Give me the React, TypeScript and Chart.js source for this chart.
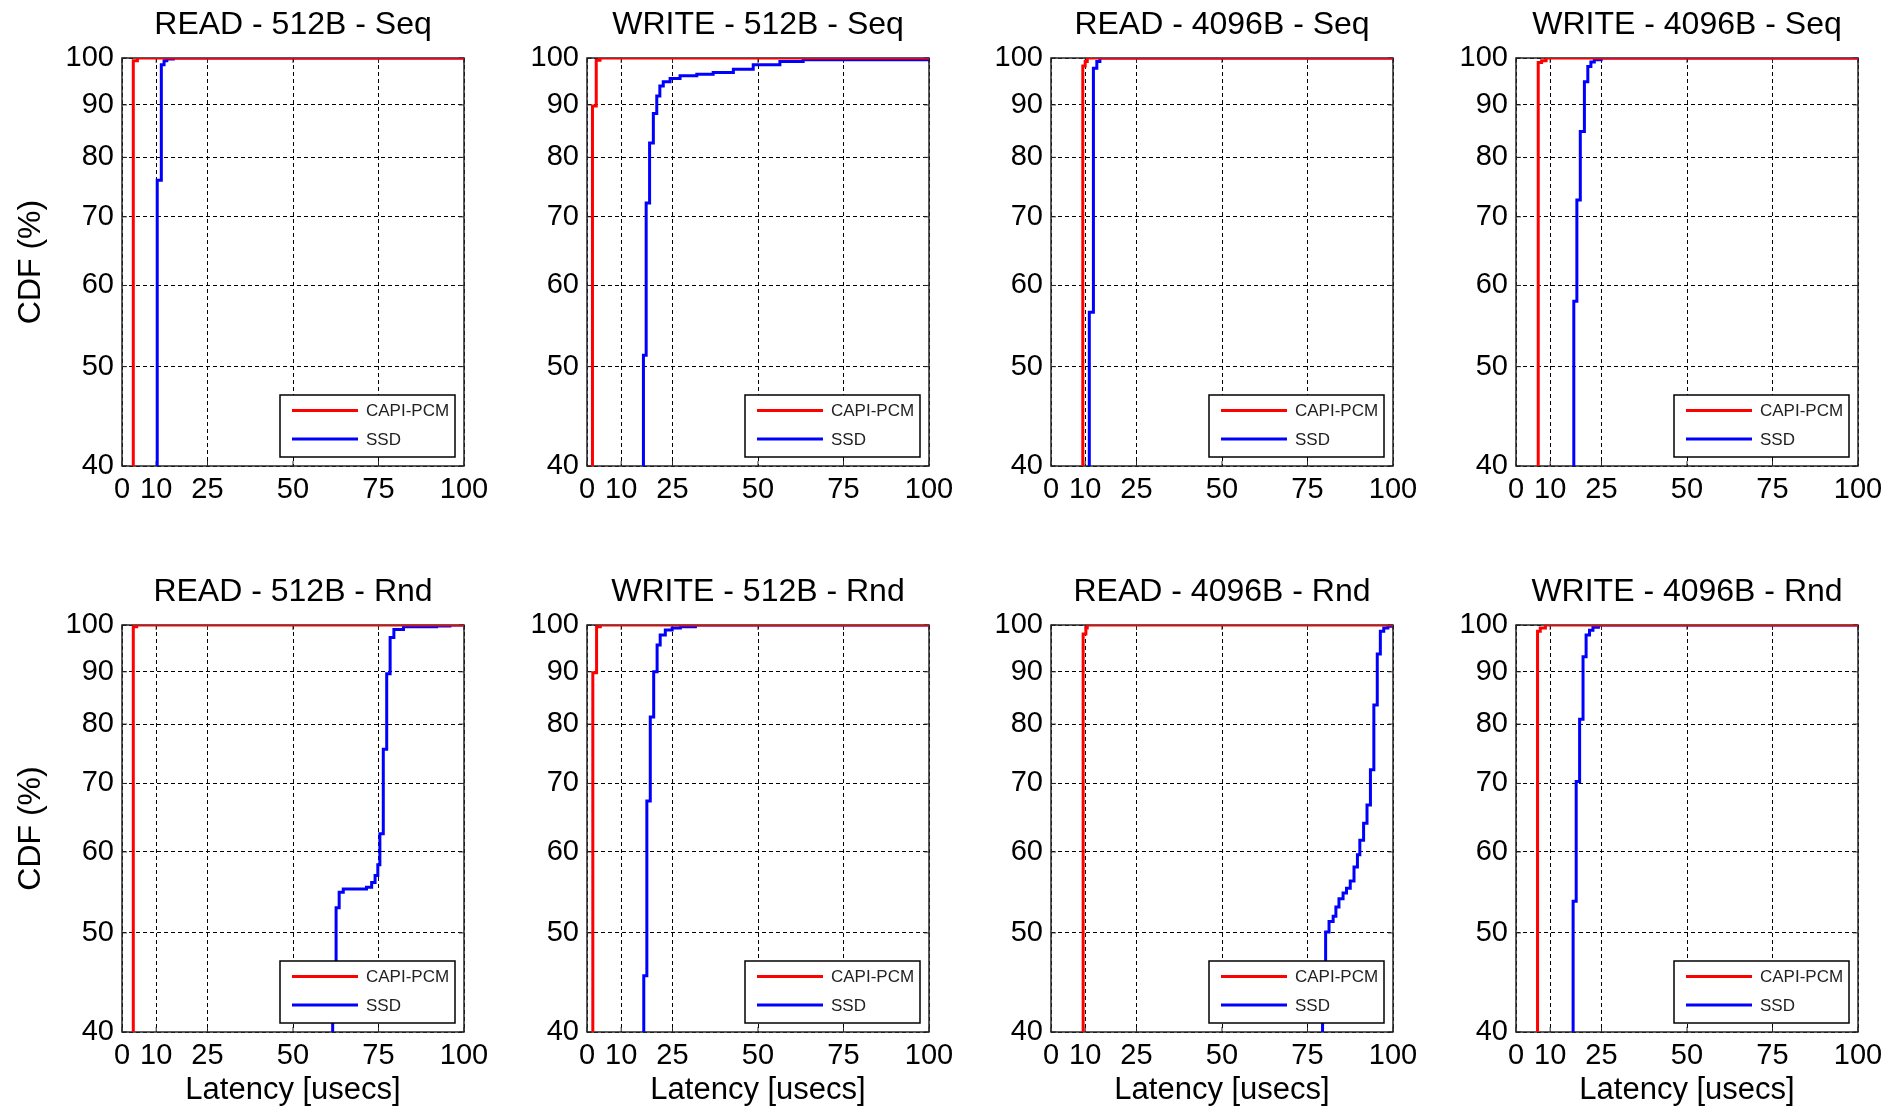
import React, { useEffect, useRef } from 'react';
import { Chart, registerables } from 'chart.js';

Chart.register(...registerables);

const FONT = '"Liberation Sans", Arial, Helvetica, sans-serif';

// ---- axis ticks / labels ----
const X_TICKS = [0, 10, 25, 50, 75, 100];
const Y_TICKS = [40, 50, 60, 70, 80, 90, 100];
const SERIES_LABELS = ['CAPI-PCM', 'SSD'];
const SERIES_COLORS = ['#ff0000', '#0000ff'];
const X_TITLE = 'Latency [usecs]';
const Y_TITLE = 'CDF (%)';
const TITLES_ROW1 = ['READ - 512B - Seq', 'WRITE - 512B - Seq', 'READ - 4096B - Seq', 'WRITE - 4096B - Seq'];
const TITLES_ROW2 = ['READ - 512B - Rnd', 'WRITE - 512B - Rnd', 'READ - 4096B - Rnd', 'WRITE - 4096B - Rnd'];

// ---- READ - 512B - Seq ----
const R512S_PCM_LAT = [3.3, 3.3, 4.5, 100];
const R512S_PCM_CDF = [1, 99.4, 100, 100];
const R512S_SSD_LAT = [10.3, 10.3, 11.5, 12.3, 13.1, 15.0, 100];
const R512S_SSD_CDF = [1, 76.0, 98.5, 99.4, 99.8, 100, 100];

// ---- WRITE - 512B - Seq ----
const W512S_PCM_LAT = [1.6, 1.6, 2.7, 3.8, 100];
const W512S_PCM_CDF = [1, 89.8, 99.5, 100, 100];
const W512S_SSD_LAT = [16.5, 16.5, 17.3, 18.3, 19.4, 20.4, 21.3, 22.3, 24.3, 27.2, 32.1, 36.9, 42.8, 48.6, 56.4, 63.2, 100];
const W512S_SSD_CDF = [1, 51.3, 72.2, 82.6, 88.3, 91.8, 93.9, 94.8, 95.5, 96.1, 96.4, 96.8, 97.5, 98.5, 99.2, 99.6, 99.7];

// ---- READ - 4096B - Seq ----
const R4096S_PCM_LAT = [9.3, 9.3, 10.0, 10.6, 100];
const R4096S_PCM_CDF = [1, 98.2, 99.2, 100, 100];
const R4096S_SSD_LAT = [11.2, 11.2, 12.4, 13.4, 14.3, 100];
const R4096S_SSD_CDF = [1, 56.5, 97.7, 99.2, 100, 100];

// ---- WRITE - 4096B - Seq ----
const W4096S_PCM_LAT = [6.5, 6.5, 7.5, 8.8, 100];
const W4096S_PCM_CDF = [1, 99.0, 99.4, 100, 100];
const W4096S_SSD_LAT = [16.9, 16.9, 17.8, 18.8, 20.0, 21.0, 21.9, 22.9, 24.9, 100];
const W4096S_SSD_CDF = [1, 57.9, 72.7, 84.8, 94.8, 98.1, 99.1, 99.6, 100, 100];

// ---- READ - 512B - Rnd ----
const R512R_PCM_LAT = [3.3, 3.3, 4.3, 100];
const R512R_PCM_CDF = [1, 99.6, 100, 100];
const R512R_SSD_LAT = [61.6, 61.6, 62.6, 63.5, 64.7, 71.5, 73.0, 74.0, 74.8, 75.4, 76.4, 77.4, 78.4, 79.5, 82.3, 92.0, 95.9, 100];
const R512R_SSD_CDF = [1, 44.0, 52.9, 54.8, 55.2, 55.4, 56.0, 56.9, 58.3, 62.5, 75.6, 89.6, 97.2, 99.0, 99.6, 99.8, 100, 100];

// ---- WRITE - 512B - Rnd ----
const W512R_PCM_LAT = [1.7, 1.7, 2.8, 3.9, 100];
const W512R_PCM_CDF = [1, 89.8, 99.6, 100, 100];
const W512R_SSD_LAT = [16.6, 16.6, 17.5, 18.5, 19.5, 20.5, 21.4, 22.9, 24.9, 27.3, 31.7, 100];
const W512R_SSD_CDF = [1, 45.4, 67.3, 81.3, 90.0, 95.6, 97.8, 98.9, 99.3, 99.6, 100, 100];

// ---- READ - 4096B - Rnd ----
const R4096R_PCM_LAT = [9.4, 9.4, 10.2, 10.6, 100];
const R4096R_PCM_CDF = [1, 98.0, 99.3, 100, 100];
const R4096R_SSD_LAT = [79.4, 79.4, 80.3, 81.3, 82.5, 83.3, 84.2, 85.4, 86.4, 87.5, 88.6, 89.6, 90.3, 91.4, 92.4, 93.4, 94.4, 95.4, 96.3, 97.3, 98.5, 99.5];
const R4096R_SSD_CDF = [1, 44.0, 50.1, 51.3, 51.9, 53.0, 54.0, 54.7, 55.3, 56.2, 58.0, 59.6, 61.6, 64.0, 66.7, 72.2, 83.5, 93.7, 98.6, 99.3, 99.7, 100];

// ---- WRITE - 4096B - Rnd ----
const W4096R_PCM_LAT = [6.3, 6.3, 7.1, 8.6, 100];
const W4096R_PCM_CDF = [1, 98.6, 99.3, 100, 100];
const W4096R_SSD_LAT = [16.7, 16.7, 17.6, 18.6, 19.6, 20.5, 21.5, 22.5, 24.1, 100];
const W4096R_SSD_CDF = [1, 53.7, 70.3, 80.9, 93.1, 97.8, 98.8, 99.5, 100, 100];

type Panel = { title: string; series: { lat: number[]; cdf: number[] }[] };

const PANELS: Panel[][] = [
  [
    { title: TITLES_ROW1[0], series: [{ lat: R512S_PCM_LAT, cdf: R512S_PCM_CDF }, { lat: R512S_SSD_LAT, cdf: R512S_SSD_CDF }] },
    { title: TITLES_ROW1[1], series: [{ lat: W512S_PCM_LAT, cdf: W512S_PCM_CDF }, { lat: W512S_SSD_LAT, cdf: W512S_SSD_CDF }] },
    { title: TITLES_ROW1[2], series: [{ lat: R4096S_PCM_LAT, cdf: R4096S_PCM_CDF }, { lat: R4096S_SSD_LAT, cdf: R4096S_SSD_CDF }] },
    { title: TITLES_ROW1[3], series: [{ lat: W4096S_PCM_LAT, cdf: W4096S_PCM_CDF }, { lat: W4096S_SSD_LAT, cdf: W4096S_SSD_CDF }] },
  ],
  [
    { title: TITLES_ROW2[0], series: [{ lat: R512R_PCM_LAT, cdf: R512R_PCM_CDF }, { lat: R512R_SSD_LAT, cdf: R512R_SSD_CDF }] },
    { title: TITLES_ROW2[1], series: [{ lat: W512R_PCM_LAT, cdf: W512R_PCM_CDF }, { lat: W512R_SSD_LAT, cdf: W512R_SSD_CDF }] },
    { title: TITLES_ROW2[2], series: [{ lat: R4096R_PCM_LAT, cdf: R4096R_PCM_CDF }, { lat: R4096R_SSD_LAT, cdf: R4096R_SSD_CDF }] },
    { title: TITLES_ROW2[3], series: [{ lat: W4096R_PCM_LAT, cdf: W4096R_PCM_CDF }, { lat: W4096R_SSD_LAT, cdf: W4096R_SSD_CDF }] },
  ],
];

// ---- layout (pixels) ----
const PLOT_LEFTS = [122, 587, 1051, 1516];
const PLOT_TOPS = [58, 625];
const PLOT_HEIGHTS = [408, 407];
const PLOT_W = 342;
const AXIS_W = 122;
const TITLE_H = 58;
const PAD_R = 40;
const X_AXIS_H = [64, 77];

const axesBox = {
  id: 'axesBox',
  beforeDatasetsDraw(chart: any) {
    const { ctx, chartArea: a, scales } = chart;
    ctx.save();
    ctx.strokeStyle = '#262626';
    ctx.lineWidth = 1;
    ctx.beginPath();
    scales.x.ticks.forEach((t: any) => {
      const px = scales.x.getPixelForValue(t.value);
      ctx.moveTo(px, a.bottom);
      ctx.lineTo(px, a.bottom - 5);
      ctx.moveTo(px, a.top);
      ctx.lineTo(px, a.top + 5);
    });
    scales.y.ticks.forEach((t: any) => {
      const py = scales.y.getPixelForValue(t.value);
      ctx.moveTo(a.left, py);
      ctx.lineTo(a.left + 5, py);
      ctx.moveTo(a.right, py);
      ctx.lineTo(a.right - 5, py);
    });
    ctx.stroke();
    ctx.lineWidth = 1.5;
    ctx.strokeRect(a.left, a.top, a.right - a.left, a.bottom - a.top);
    ctx.restore();
  },
};

const cdfLegend = {
  id: 'cdfLegend',
  afterDatasetsDraw(chart: any) {
    const { ctx, chartArea: a } = chart;
    const w = 175;
    const h = 62;
    const inset = 9;
    const x0 = a.right - inset - w;
    const y0 = a.bottom - inset - h;
    ctx.save();
    ctx.fillStyle = '#ffffff';
    ctx.fillRect(x0, y0, w, h);
    ctx.strokeStyle = '#000000';
    ctx.lineWidth = 1.5;
    ctx.strokeRect(x0, y0, w, h);
    chart.data.datasets.forEach((ds: any, i: number) => {
      const y = y0 + 15.5 + i * 28.5;
      ctx.strokeStyle = ds.borderColor;
      ctx.lineWidth = 3;
      ctx.beginPath();
      ctx.moveTo(x0 + 12, y);
      ctx.lineTo(x0 + 78, y);
      ctx.stroke();
      ctx.fillStyle = '#222222';
      ctx.font = `17px ${FONT}`;
      ctx.textAlign = 'left';
      ctx.textBaseline = 'middle';
      ctx.fillText(ds.label, x0 + 86, y + 1);
    });
    ctx.restore();
  },
};

function CdfPanel({ panel, row, col }: { panel: Panel; row: number; col: number }) {
  const ref = useRef<HTMLCanvasElement>(null);
  const plotH = PLOT_HEIGHTS[row];
  const xAxisH = X_AXIS_H[row];
  const width = AXIS_W + PLOT_W + PAD_R;
  const height = TITLE_H + plotH + xAxisH;
  const left = PLOT_LEFTS[col] - AXIS_W;
  const top = PLOT_TOPS[row] - TITLE_H;

  useEffect(() => {
    const tickFont = { family: FONT, size: 29, lineHeight: 1.2 };
    const chart = new Chart(ref.current as HTMLCanvasElement, {
      type: 'line',
      data: {
        datasets: panel.series.map((s, i) => ({
          label: SERIES_LABELS[i],
          data: s.lat.map((x, j) => ({ x, y: s.cdf[j] })),
          borderColor: SERIES_COLORS[i],
          backgroundColor: SERIES_COLORS[i],
          borderWidth: 3,
          pointRadius: 0,
          pointHoverRadius: 0,
          stepped: 'before' as const,
          fill: false,
          tension: 0,
          borderJoinStyle: 'miter' as const,
        })),
      },
      options: {
        animation: false,
        responsive: false,
        maintainAspectRatio: false,
        events: [],
        layout: { padding: { left: 0, right: PAD_R, top: 0, bottom: 0 }, autoPadding: false },
        plugins: {
          legend: { display: false },
          tooltip: { enabled: false },
          title: {
            display: true,
            text: panel.title,
            fullSize: false,
            color: '#000',
            font: { family: FONT, size: 32, weight: 'normal', lineHeight: 1.25 },
            padding: { top: 5, bottom: 13 },
          },
        },
        scales: {
          x: {
            type: 'linear',
            position: 'bottom',
            min: 0,
            max: 100,
            afterBuildTicks: (s: any) => {
              s.ticks = X_TICKS.map((v) => ({ value: v }));
            },
            afterFit: (s: any) => {
              s.height = xAxisH;
              s.paddingLeft = 0;
              s.paddingRight = 0;
              s.paddingTop = 0;
              s.paddingBottom = 0;
            },
            ticks: {
              autoSkip: false,
              maxRotation: 0,
              minRotation: 0,
              padding: 7,
              color: '#000',
              font: tickFont,
              callback: (v: any) => String(v),
            },
            grid: { color: '#000', lineWidth: 1, drawTicks: false },
            border: { display: false, dash: [4, 3] },
            title: {
              display: row === 1,
              text: X_TITLE,
              color: '#000',
              font: { family: FONT, size: 31, lineHeight: 1.2 },
              padding: { top: 0, bottom: 0 },
            },
          },
          y: {
            type: 'logarithmic',
            position: 'left',
            min: 40,
            max: 100,
            afterBuildTicks: (s: any) => {
              s.ticks = Y_TICKS.map((v) => ({ value: v }));
            },
            afterFit: (s: any) => {
              s.width = AXIS_W;
              s.paddingTop = 0;
              s.paddingBottom = 0;
              s.paddingLeft = 0;
              s.paddingRight = 0;
            },
            ticks: {
              autoSkip: false,
              padding: 8,
              color: '#000',
              font: tickFont,
              callback: (v: any) => String(v),
            },
            grid: { color: '#000', lineWidth: 1, drawTicks: false },
            border: { display: false, dash: [4, 3] },
            title: {
              display: col === 0,
              text: Y_TITLE,
              color: '#000',
              font: { family: FONT, size: 32, lineHeight: 1.2 },
              padding: { top: 12, bottom: 0 },
            },
          },
        },
      } as any,
      plugins: [axesBox, cdfLegend],
    });
    return () => chart.destroy();
  }, []);

  return (
    <canvas
      ref={ref}
      width={width}
      height={height}
      style={{ position: 'absolute', left, top, width, height, display: 'block' }}
    />
  );
}

export default function App() {
  return (
    <div style={{ position: 'absolute', left: 0, top: 0, width: 1900, height: 1109, background: '#fff', overflow: 'hidden' }}>
      {PANELS.map((rowPanels, r) =>
        rowPanels.map((p, c) => <CdfPanel key={`${r}-${c}`} panel={p} row={r} col={c} />)
      )}
    </div>
  );
}
